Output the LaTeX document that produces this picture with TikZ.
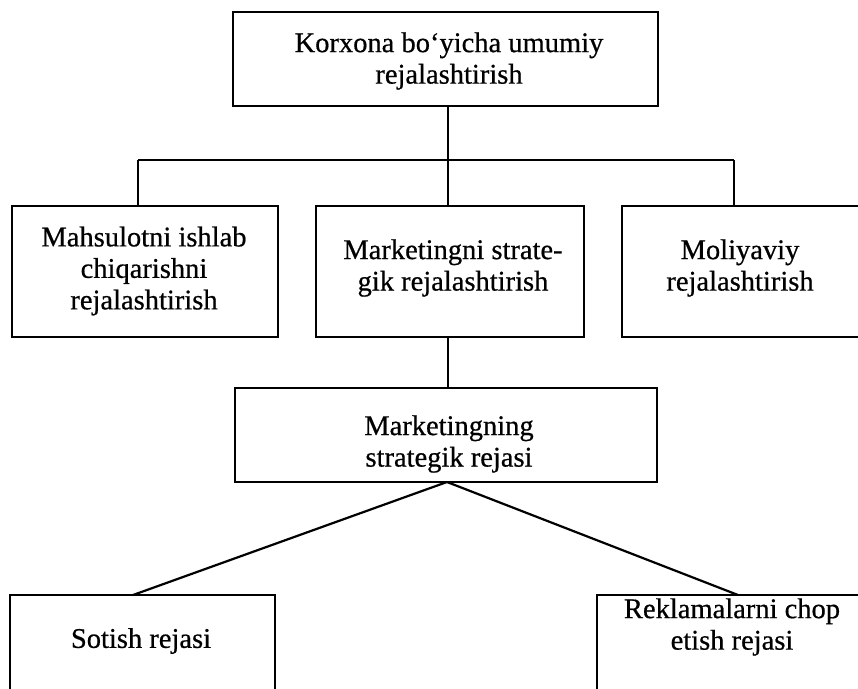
\documentclass[tikz,border=0pt]{standalone}
\usepackage{fontspec}
\setmainfont{Liberation Serif}[FakeBold=0.6]
\begin{document}
\begin{tikzpicture}[x=1pt,y=-1pt,
  box/.style={draw=black,line width=2.2pt,rectangle,inner sep=0pt,outer sep=0pt},
  txt/.style={align=center,inner sep=0pt,font=\fontsize{28.5}{31.5}\selectfont},
  link/.style={draw=black,line width=2.2pt}]
\clip (0,0) rectangle (858,688);
\fill[white] (0,0) rectangle (858,688);
% boxes
\node[box,minimum width=425pt,minimum height=94pt] (top) at (445.5,59) {};
\node[box,minimum width=266pt,minimum height=131pt] (left) at (145,271.5) {};
\node[box,minimum width=268pt,minimum height=131pt] (mid) at (450,271.5) {};
\node[box,minimum width=240pt,minimum height=131pt] (right) at (742,271.5) {};
\node[box,minimum width=422pt,minimum height=94pt] (low) at (446,435) {};
\node[box,minimum width=265pt,minimum height=110pt] (bl) at (142.5,650) {};
\node[box,minimum width=270pt,minimum height=110pt] (br) at (732,650) {};
% texts
\node[txt] (ttop) at (449,61) {Korxona bo‘yicha umumiy\\rejalashtirish};
\node[txt] (tleft) at (144,271) {Mahsulotni ishlab\\chiqarishni\\rejalashtirish};
\node[txt] (tmid) at (453,268) {Marketingni strate-\\gik rejalashtirish};
\node[txt] (tright) at (740,268) {Moliyaviy\\rejalashtirish};
\node[txt] (tlow) at (449,444) {Marketingning\\strategik rejasi};
\node[txt] (tbl) at (141,641) {Sotish rejasi};
\node[txt] (tbr) at (732,627) {Reklamalarni chop\\etish rejasi};
% connectors
\coordinate (barL) at (138,160);
\coordinate (barM) at (448,160);
\coordinate (barR) at (734,160);
\coordinate (apex) at (447,482);
\coordinate (endL) at (133,595);
\coordinate (endR) at (738,595);
\draw[link] (barM |- top.south) -- (barM);
\draw[link] (barL) -- (barR);
\draw[link] (barL) -- (barL |- left.north);
\draw[link] (barM) -- (barM |- mid.north);
\draw[link] (barR) -- (barR |- right.north);
\draw[link] (barM |- mid.south) -- (barM |- low.north);
\draw[link] (apex) -- (endL |- bl.north);
\draw[link] (apex) -- (endR |- br.north);
\end{tikzpicture}
\end{document}
